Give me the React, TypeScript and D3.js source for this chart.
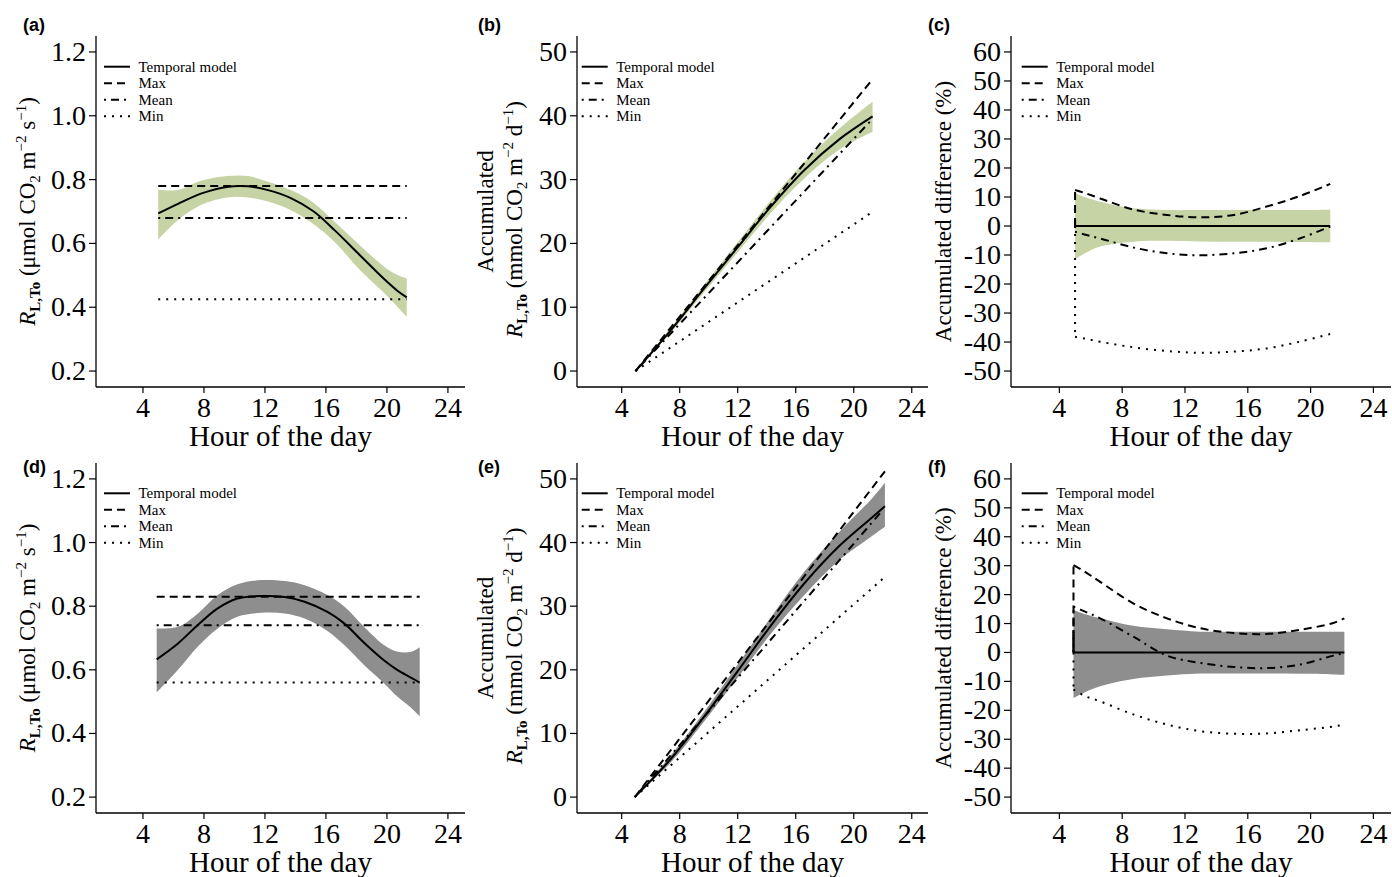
import * as d3 from "d3";

const SERIF = "'Liberation Serif', 'Times New Roman', serif";
const SANS = "'Liberation Sans', Arial, sans-serif";

type Pt = [number, number];

// ---- panel (a): leaf respiration, green site
const aHours = [5.0, 6.3, 7.8, 9.5, 10.9, 12.2, 13.7, 15.2, 16.6, 18.1, 19.8, 20.7, 21.3];
const aModel = [0.694, 0.724, 0.756, 0.777, 0.779, 0.767, 0.742, 0.7, 0.64, 0.569, 0.489, 0.451, 0.431];
const aUpper = [0.769, 0.767, 0.796, 0.811, 0.811, 0.793, 0.767, 0.727, 0.666, 0.6, 0.528, 0.501, 0.49];
const aLower = [0.612, 0.673, 0.72, 0.744, 0.744, 0.731, 0.704, 0.66, 0.603, 0.523, 0.445, 0.401, 0.37];
const aMax = 0.78;
const aMean = 0.68;
const aMin = 0.425;

// ---- panel (b): accumulated
const bHours = [4.95, 7.35, 9.67, 12.0, 14.3, 16.6, 19.0, 21.3];
const bModel = [0, 6.3, 12.9, 19.4, 25.8, 31.5, 36.3, 39.9];
const bUpper = [0, 6.7, 13.5, 20.2, 26.8, 32.8, 38.0, 42.2];
const bLower = [0, 5.9, 12.3, 18.6, 24.8, 30.2, 34.7, 37.5];
const bMax: Pt[] = [[4.95, 0], [21.25, 45.6]];
const bMean: Pt[] = [[4.95, 0], [21.25, 39.4]];
const bMin: Pt[] = [[4.95, 0], [21.2, 24.8]];

// ---- panel (c): accumulated difference (%)
const cHours = [5.0, 5.6, 6.6, 8.7, 10.85, 12.95, 15.1, 17.2, 19.3, 21.25];
const cUpper = [11.3, 10.0, 8.4, 6.1, 5.5, 5.5, 5.5, 5.5, 5.5, 5.6];
const cLower = [-11.5, -9.5, -7.1, -5.4, -5.1, -5.3, -5.4, -5.4, -5.5, -5.6];
const cMax = [12.4, 11.4, 9.5, 5.7, 3.8, 3.0, 3.8, 6.7, 10.3, 14.5];
const cMean = [-2.0, -2.9, -4.3, -7.4, -9.4, -10.1, -9.4, -7.7, -4.3, -0.2];
const cMin = [-38.2, -38.8, -39.9, -41.8, -43.1, -43.7, -43.3, -42.2, -39.9, -37.2];
const cModelStart = 2.0;

// ---- panel (d): leaf respiration, grey site
const dHours = [4.9, 6.3, 7.6, 8.9, 10.2, 11.75, 13.3, 14.6, 16.1, 17.2, 18.5, 19.8, 20.7, 21.6, 22.15];
const dModel = [0.633, 0.683, 0.741, 0.793, 0.824, 0.832, 0.829, 0.814, 0.782, 0.746, 0.685, 0.63, 0.599, 0.575, 0.56];
const dUpper = [0.73, 0.735, 0.777, 0.835, 0.869, 0.882, 0.879, 0.866, 0.835, 0.799, 0.735, 0.678, 0.657, 0.657, 0.671];
const dLower = [0.529, 0.6, 0.673, 0.73, 0.767, 0.779, 0.777, 0.761, 0.722, 0.678, 0.615, 0.558, 0.515, 0.48, 0.454];
const dMax = 0.83;
const dMean = 0.74;
const dMin = 0.56;

// ---- panel (e)
const eHours = [4.9, 7.35, 9.67, 12.0, 14.3, 16.6, 18.93, 21.24, 22.15];
const eModel = [0, 5.9, 12.6, 19.8, 27.0, 33.6, 39.3, 43.9, 45.7];
const eUpper = [0, 6.45, 13.35, 20.85, 28.3, 35.45, 41.5, 46.9, 49.4];
const eLower = [0, 5.35, 11.85, 18.75, 25.7, 31.75, 37.1, 41.0, 42.5];
const eMax: Pt[] = [[4.9, 0], [22.15, 51.2]];
const eMean: Pt[] = [[4.9, 0], [22.0, 45.1]];
const eMin: Pt[] = [[4.9, 0], [22.0, 34.3]];

// ---- panel (f)
const fHours = [4.9, 5.6, 6.6, 8.7, 10.85, 12.95, 15.1, 17.2, 19.3, 21.45, 22.15];
const fUpper = [14.7, 13.3, 11.8, 9.2, 8.0, 7.2, 7.2, 7.2, 7.2, 7.2, 7.2];
const fLower = [-15.7, -13.8, -11.7, -9.2, -8.0, -7.3, -7.3, -7.3, -7.4, -7.6, -7.7];
const fMax = [30.2, 28.0, 24.4, 17.0, 11.8, 8.4, 6.7, 6.4, 7.8, 10.2, 11.8];
const fMean = [15.8, 14.2, 11.8, 5.5, -1.1, -3.6, -5.0, -5.4, -4.2, -1.1, -0.2];
const fMin = [-12.8, -15.0, -16.9, -21.4, -24.9, -27.2, -28.1, -28.0, -26.9, -25.6, -24.9];
const fModelStart = 7.8;

const xTicks = [4, 8, 12, 16, 20, 24];
const rateTicks = [0.2, 0.4, 0.6, 0.8, 1.0, 1.2];
const accTicks = [0, 10, 20, 30, 40, 50];
const pctTicks = [-50, -40, -30, -20, -10, 0, 10, 20, 30, 40, 50, 60];
const legendNames = ["Temporal model", "Max", "Mean", "Min"];

const GREEN = "#c5d3a5";
const GREY = "#8e8e8e";

const DASH: Record<string, string | undefined> = {
  model: undefined,
  max: "8,5",
  mean: "2,5,8,5",
  min: "2,6",
};

const zip = (h: number[], v: number[]): Pt[] => h.map((x, i) => [x, v[i]]);
const flat = (h: number[], v: number): Pt[] => [[h[0], v], [h[h.length - 1], v]];
// percentage series start with a vertical jump from zero
const jump = (h: number[], v: number[]): Pt[] => [[h[0], 0], ...zip(h, v)];

const cols = [
  { left: 96, right: 465, legX: 104, labelX: 23 },
  { left: 577, right: 928, legX: 581.7, labelX: 478 },
  { left: 1011, right: 1391, legX: 1021.7, labelX: 928 },
];
const rows = [
  { top: 36, bottom: 387, legY: 66.7, labelY: 31 },
  { top: 463, bottom: 813, legY: 493.3, labelY: 473 },
];

type Kind = "rate" | "acc" | "pct";

interface Spec {
  label: string;
  col: number;
  row: number;
  kind: Kind;
  fill: string;
  hours: number[];
  upper: number[];
  lower: number[];
  lines: { key: string; pts: Pt[] }[];
}

const specs: Spec[] = [
  {
    label: "(a)", col: 0, row: 0, kind: "rate", fill: GREEN,
    hours: aHours, upper: aUpper, lower: aLower,
    lines: [
      { key: "min", pts: flat(aHours, aMin) },
      { key: "mean", pts: flat(aHours, aMean) },
      { key: "max", pts: flat(aHours, aMax) },
      { key: "model", pts: zip(aHours, aModel) },
    ],
  },
  {
    label: "(b)", col: 1, row: 0, kind: "acc", fill: GREEN,
    hours: bHours, upper: bUpper, lower: bLower,
    lines: [
      { key: "min", pts: bMin },
      { key: "mean", pts: bMean },
      { key: "max", pts: bMax },
      { key: "model", pts: zip(bHours, bModel) },
    ],
  },
  {
    label: "(c)", col: 2, row: 0, kind: "pct", fill: GREEN,
    hours: cHours, upper: cUpper, lower: cLower,
    lines: [
      { key: "min", pts: jump(cHours, cMin) },
      { key: "mean", pts: jump(cHours, cMean) },
      { key: "max", pts: jump(cHours, cMax) },
      { key: "model", pts: [[cHours[0], cModelStart], [cHours[0], 0], [cHours[cHours.length - 1], 0]] },
    ],
  },
  {
    label: "(d)", col: 0, row: 1, kind: "rate", fill: GREY,
    hours: dHours, upper: dUpper, lower: dLower,
    lines: [
      { key: "min", pts: flat(dHours, dMin) },
      { key: "mean", pts: flat(dHours, dMean) },
      { key: "max", pts: flat(dHours, dMax) },
      { key: "model", pts: zip(dHours, dModel) },
    ],
  },
  {
    label: "(e)", col: 1, row: 1, kind: "acc", fill: GREY,
    hours: eHours, upper: eUpper, lower: eLower,
    lines: [
      { key: "min", pts: eMin },
      { key: "mean", pts: eMean },
      { key: "max", pts: eMax },
      { key: "model", pts: zip(eHours, eModel) },
    ],
  },
  {
    label: "(f)", col: 2, row: 1, kind: "pct", fill: GREY,
    hours: fHours, upper: fUpper, lower: fLower,
    lines: [
      { key: "min", pts: jump(fHours, fMin) },
      { key: "mean", pts: jump(fHours, fMean) },
      { key: "max", pts: jump(fHours, fMax) },
      { key: "model", pts: [[fHours[0], fModelStart], [fHours[0], 0], [fHours[fHours.length - 1], 0]] },
    ],
  },
];

const yDomains: Record<Kind, [number, number]> = {
  rate: [0.15, 1.25],
  acc: [-2.5, 52.5],
  pct: [-55.5, 65.5],
};
const yTicksFor: Record<Kind, number[]> = { rate: rateTicks, acc: accTicks, pct: pctTicks };
const yFmt: Record<Kind, (v: number) => string> = {
  rate: d3.format(".1f"),
  acc: (v) => String(v),
  pct: (v) => String(v),
};

function YLabel({ kind, left, cy }: { kind: Kind; left: number; cy: number }) {
  const sub = 15;
  if (kind === "pct") {
    return (
      <text transform={`translate(${left - 60},${cy}) rotate(-90)`} textAnchor="middle" fontSize={23} fontFamily={SERIF}>
        Accumulated difference (%)
      </text>
    );
  }
  const unit = kind === "rate" ? "μmol" : "mmol";
  const per = kind === "rate" ? "s" : "d";
  const rLine = (
    <>
      <tspan fontStyle="italic">R</tspan>
      <tspan fontSize={sub} fontWeight="bold" dy={5}>L,To</tspan>
      <tspan dy={-5}>{` (${unit} CO`}</tspan>
      <tspan fontSize={sub} dy={5}>2</tspan>
      <tspan dy={-5}>{" m"}</tspan>
      <tspan fontSize={sub} dy={-9}>−2</tspan>
      <tspan dy={9}>{` ${per}`}</tspan>
      <tspan fontSize={sub} dy={-9}>−1</tspan>
      <tspan dy={9}>)</tspan>
    </>
  );
  if (kind === "rate") {
    return (
      <text transform={`translate(${left - 61},${cy}) rotate(-90)`} textAnchor="middle" fontSize={23} fontFamily={SERIF}>
        {rLine}
      </text>
    );
  }
  return (
    <g fontFamily={SERIF} fontSize={23}>
      <text transform={`translate(${left - 84},${cy}) rotate(-90)`} textAnchor="middle">Accumulated</text>
      <text transform={`translate(${left - 55.5},${cy + 8}) rotate(-90)`} textAnchor="middle">{rLine}</text>
    </g>
  );
}

function Panel({ spec }: { spec: Spec }) {
  const c = cols[spec.col];
  const r = rows[spec.row];
  const x = d3.scaleLinear().domain([0.92, 25.12]).range([c.left, c.right]);
  const y = d3.scaleLinear().domain(yDomains[spec.kind]).range([r.bottom, r.top]);
  const curve = d3.curveCatmullRom.alpha(0.5);

  const area = d3
    .area<number>()
    .x((_, i) => x(spec.hours[i]))
    .y0((_, i) => y(spec.lower[i]))
    .y1((_, i) => y(spec.upper[i]))
    .curve(curve);

  const line = d3
    .line<Pt>()
    .x((d) => x(d[0]))
    .y((d) => y(d[1]))
    .curve(curve);
  const straight = d3
    .line<Pt>()
    .x((d) => x(d[0]))
    .y((d) => y(d[1]));

  const paths = (pts: Pt[]) => {
    // a leading vertical jump is drawn straight, the rest smoothed
    if (pts.length > 2 && pts[0][0] === pts[1][0]) {
      return [straight(pts.slice(0, 2)) as string, line(pts.slice(1)) as string];
    }
    return [line(pts) as string];
  };

  const ticks = yTicksFor[spec.kind];
  const cy = (r.top + r.bottom) / 2;

  return (
    <g>
      <path d={area(spec.hours) as string} fill={spec.fill} />
      {spec.lines.map((l) =>
        paths(l.pts).map((d, i) => (
          <path key={l.key + i} d={d} fill="none" stroke="#000" strokeWidth={2} strokeDasharray={DASH[l.key]} />
        ))
      )}

      {/* axes */}
      <line x1={c.left} x2={c.left} y1={r.top} y2={r.bottom} stroke="#000" strokeWidth={1.3} />
      <line x1={c.left} x2={c.right} y1={r.bottom} y2={r.bottom} stroke="#000" strokeWidth={1.3} />
      {ticks.map((t) => (
        <g key={t}>
          <line x1={c.left - 7} x2={c.left} y1={y(t)} y2={y(t)} stroke="#000" strokeWidth={1.2} />
          <text x={c.left - 10} y={y(t) + 9} textAnchor="end" fontSize={28} fontFamily={SERIF}>
            {yFmt[spec.kind](t)}
          </text>
        </g>
      ))}
      {xTicks.map((t) => (
        <g key={t}>
          <line x1={x(t)} x2={x(t)} y1={r.bottom} y2={r.bottom + 6} stroke="#000" strokeWidth={1.2} />
          <text x={x(t)} y={r.bottom + 30} textAnchor="middle" fontSize={28} fontFamily={SERIF}>
            {t}
          </text>
        </g>
      ))}
      <text x={(c.left + c.right) / 2} y={r.bottom + 59} textAnchor="middle" fontSize={29} fontFamily={SERIF}>
        Hour of the day
      </text>
      <YLabel kind={spec.kind} left={c.left} cy={cy} />

      {/* legend */}
      {legendNames.map((name, i) => {
        const key = ["model", "max", "mean", "min"][i];
        const ly = r.legY + i * 16.5;
        return (
          <g key={name}>
            <line x1={c.legX} x2={c.legX + 26} y1={ly} y2={ly} stroke="#000" strokeWidth={2} strokeDasharray={DASH[key]} />
            <text x={c.legX + 34.5} y={ly + 5} fontSize={15} fontFamily={SERIF}>
              {name}
            </text>
          </g>
        );
      })}

      <text x={c.labelX} y={r.labelY} fontSize={18} fontWeight="bold" fontFamily={SANS}>
        {spec.label}
      </text>
    </g>
  );
}

export default function App() {
  return (
    <svg
      width={1392}
      height={877}
      viewBox="0 0 1392 877"
      style={{ position: "absolute", left: 0, top: 0, background: "#fff" }}
    >
      <rect width={1392} height={877} fill="#fff" />
      {specs.map((s) => (
        <Panel key={s.label} spec={s} />
      ))}
    </svg>
  );
}
